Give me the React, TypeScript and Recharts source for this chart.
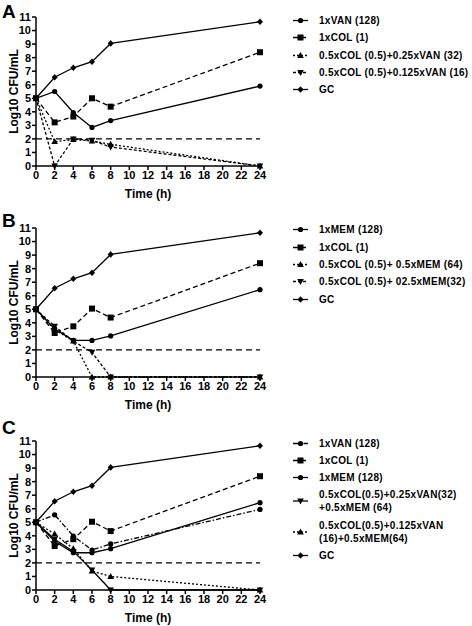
import React from 'react';
import { LineChart, Line, XAxis, YAxis, ReferenceLine, Legend } from 'recharts';

const times = [0, 2, 4, 6, 8, 24];
const xTicks = [0, 2, 4, 6, 8, 10, 12, 14, 16, 18, 20, 22, 24];
const yTicks = [0, 1, 2, 3, 4, 5, 6, 7, 8, 9, 10, 11];
const detectionLimit = 2;

// Panel A
const aNames = ['1xVAN (128)', '1xCOL (1)', '0.5xCOL (0.5)+0.25xVAN (32)', '0.5xCOL (0.5)+0.125xVAN (16)', 'GC'];
const aVan = [5, 5.5, 3.95, 2.85, 3.35, 5.9];
const aCol = [5, 3.22, 3.65, 5.0, 4.38, 8.4];
const aColVan32 = [5, 1.8, 1.95, 1.85, 1.6, 0];
const aColVan16 = [5, 0, 2.0, 1.9, 1.4, 0];
const aGc = [5, 6.55, 7.25, 7.7, 9.05, 10.65];

// Panel B
const bNames = ['1xMEM (128)', '1xCOL (1)', '0.5xCOL (0.5)+ 0.5xMEM (64)', '0.5xCOL (0.5)+ 02.5xMEM(32)', 'GC'];
const bMem = [5, 3.55, 2.7, 2.7, 3.03, 6.45];
const bCol = [5, 3.25, 3.74, 5.05, 4.39, 8.4];
const bColMem64 = [5, 3.5, 2.65, 0, 0, 0];
const bColMem32 = [5, 3.74, 2.65, 1.82, 0, 0];
const bGc = [5, 6.55, 7.25, 7.7, 9.05, 10.65];

// Panel C
const cNames = ['1xVAN (128)', '1xCOL (1)', '1xMEM (128)', '0.5xCOL(0.5)+0.25xVAN(32)\n+0.5xMEM (64)', '0.5xCOL(0.5)+0.125xVAN\n(16)+0.5xMEM(64)', 'GC'];
const cVan = [5, 5.55, 3.98, 2.95, 3.4, 5.95];
const cCol = [5, 3.25, 3.75, 5.04, 4.35, 8.4];
const cMem = [5, 3.6, 2.75, 2.75, 3.05, 6.45];
const cTriple32 = [5, 3.75, 2.85, 1.48, 0, 0];
const cTriple16 = [5, 4.13, 3.05, 1.4, 1.0, 0];
const cGc = [5, 6.55, 7.25, 7.7, 9.05, 10.65];

type Shape = 'circle' | 'square' | 'triangle' | 'down' | 'diamond';
type Series = { name: string; values: number[]; shape: Shape; dash?: string };

const DASHED = '5 3';
const DOTTED = '2 2';
const FINE = '3 2';
const DASHDOT = '5 2 1.5 2';

const panelA: Series[] = [
  { name: aNames[0], values: aVan, shape: 'circle' },
  { name: aNames[1], values: aCol, shape: 'square', dash: DASHED },
  { name: aNames[2], values: aColVan32, shape: 'triangle', dash: DOTTED },
  { name: aNames[3], values: aColVan16, shape: 'down', dash: FINE },
  { name: aNames[4], values: aGc, shape: 'diamond' },
];
const panelB: Series[] = [
  { name: bNames[0], values: bMem, shape: 'circle' },
  { name: bNames[1], values: bCol, shape: 'square', dash: DASHED },
  { name: bNames[2], values: bColMem64, shape: 'triangle', dash: DOTTED },
  { name: bNames[3], values: bColMem32, shape: 'down', dash: FINE },
  { name: bNames[4], values: bGc, shape: 'diamond' },
];
const panelC: Series[] = [
  { name: cNames[0], values: cVan, shape: 'circle', dash: DASHDOT },
  { name: cNames[1], values: cCol, shape: 'square', dash: DASHED },
  { name: cNames[2], values: cMem, shape: 'circle' },
  { name: cNames[3], values: cTriple32, shape: 'down' },
  { name: cNames[4], values: cTriple16, shape: 'triangle', dash: DOTTED },
  { name: cNames[5], values: cGc, shape: 'diamond' },
];

function Marker({ cx, cy, shape }: { cx: number; cy: number; shape: Shape }) {
  if (cx == null || cy == null || isNaN(cx) || isNaN(cy)) return null;
  switch (shape) {
    case 'circle':
      return <circle cx={cx} cy={cy} r={2.6} fill="#000" />;
    case 'square':
      return <rect x={cx - 3} y={cy - 3} width={6} height={6} fill="#000" />;
    case 'triangle':
      return <polygon points={`${cx},${cy - 3.5} ${cx - 3.3},${cy + 2.5} ${cx + 3.3},${cy + 2.5}`} fill="#000" />;
    case 'down':
      return <polygon points={`${cx},${cy + 3.5} ${cx - 3.3},${cy - 2.5} ${cx + 3.3},${cy - 2.5}`} fill="#000" />;
    case 'diamond':
      return <polygon points={`${cx},${cy - 3.3} ${cx + 3},${cy} ${cx},${cy + 3.3} ${cx - 3},${cy}`} fill="#000" />;
  }
  return null;
}

const FONT = '"Liberation Sans", Arial, Helvetica, sans-serif';

function LegendBox({ series }: { series: Series[] }) {
  return (
    <div style={{ fontFamily: FONT, fontWeight: 'bold', fontSize: 10, color: '#000' }}>
      {series.map((s, i) => {
        const lines = s.name.split('\n');
        const h = lines.length * 13;
        return (
          <div key={i} style={{ display: 'flex', alignItems: 'center', height: h, marginBottom: 4.3 }}>
            <svg width={29} height={h} style={{ flex: 'none' }}>
              <line x1={3} x2={18} y1={h / 2} y2={h / 2} stroke="#000" strokeWidth={1.3} strokeDasharray={s.dash} />
              <Marker cx={10.5} cy={h / 2} shape={s.shape} />
            </svg>
            <div style={{ lineHeight: '13px', letterSpacing: 0.3, whiteSpace: 'pre', flex: 'none' }}>{s.name}</div>
          </div>
        );
      })}
    </div>
  );
}

function Panel({ top, letter, letterTop, series, legendTop }: { top: number; letter: string; letterTop: number; series: Series[]; legendTop: number }) {
  const data = times.map((t, i) => {
    const row: Record<string, number> = { t };
    series.forEach((s, j) => {
      row['s' + j] = s.values[i];
    });
    return row;
  });
  return (
    <div style={{ position: 'absolute', left: 0, top }}>
      <div style={{ position: 'absolute', left: 2, top: letterTop, fontFamily: FONT, fontWeight: 'bold', fontSize: 19, lineHeight: '19px', zIndex: 2 }}>
        {letter}
      </div>
      <LineChart width={472} height={196} data={data} margin={{ top: 10, right: 212, bottom: 6, left: 0 }} style={{ fontFamily: FONT }}>
        <XAxis
          dataKey="t"
          type="number"
          domain={[0, 24]}
          ticks={xTicks}
          interval={0}
          height={31}
          tickSize={4}
          tickMargin={1}
          stroke="#000"
          strokeWidth={1.5}
          tick={{ fill: '#000', fontSize: 11, fontWeight: 'bold' }}
          label={{ value: 'Time (h)', position: 'insideBottom', offset: -1, style: { fill: '#000', fontSize: 12, fontWeight: 'bold' } }}
        />
        <YAxis
          type="number"
          domain={[0, 11]}
          ticks={yTicks}
          interval={0}
          width={36}
          tickSize={4}
          tickMargin={1}
          stroke="#000"
          strokeWidth={1.5}
          tick={{ fill: '#000', fontSize: 11, fontWeight: 'bold' }}
          label={{ value: 'Log10 CFU/mL', angle: -90, position: 'insideLeft', offset: 14, style: { fill: '#000', fontSize: 12, fontWeight: 'bold', textAnchor: 'middle' } }}
        />
        <ReferenceLine y={detectionLimit} stroke="#000" strokeWidth={1.3} strokeDasharray="6 4" />
        {series.map((s, j) => (
          <Line
            key={j}
            dataKey={'s' + j}
            name={s.name}
            stroke="#000"
            strokeWidth={1.3}
            strokeDasharray={s.dash}
            isAnimationActive={false}
            dot={(p: any) => <Marker key={'d' + j + '-' + p.index} cx={p.cx} cy={p.cy} shape={s.shape} />}
            activeDot={false}
          />
        ))}
        <Legend
          layout="vertical"
          align="center"
          verticalAlign="middle"
          wrapperStyle={{ left: 290, top: legendTop, width: 182 }}
          content={() => <LegendBox series={series} />}
        />
      </LineChart>
    </div>
  );
}

export default function App() {
  return (
    <div style={{ position: 'absolute', left: 0, top: 0, width: 472, height: 626, background: '#fff', fontFamily: FONT }}>
      <Panel top={7} letter="A" letterTop={-5} series={panelA} legendTop={7} />
      <Panel top={217.7} letter="B" letterTop={-7} series={panelB} legendTop={5.8} />
      <Panel top={431} letter="C" letterTop={-13} series={panelC} legendTop={5.5} />
    </div>
  );
}
